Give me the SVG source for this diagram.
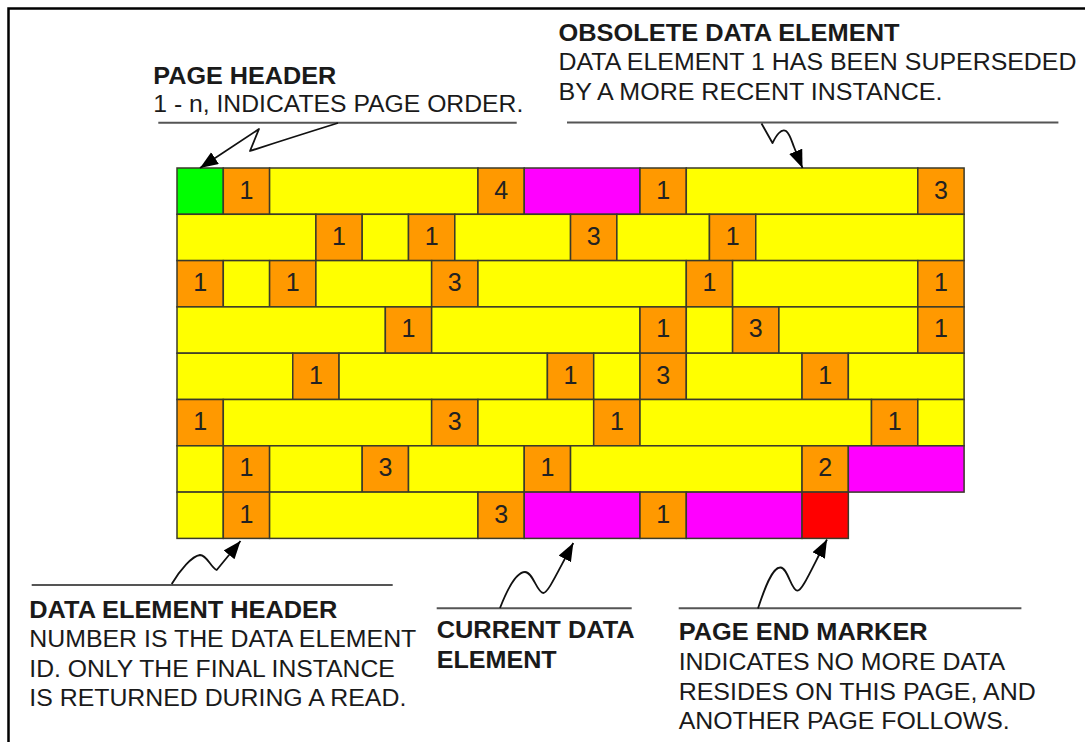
<svg xmlns="http://www.w3.org/2000/svg" width="1085" height="742" viewBox="0 0 1085 742">
<style>
.c{stroke:#3a3a2a;stroke-width:1.5}
.y{fill:#ffff00}.o{fill:#ff9900}.m{fill:#ff00ff}.g{fill:#00ff00}.r{fill:#ff0000}
.n{font-family:"Liberation Sans",Arial,sans-serif;font-size:25px;fill:#222;text-anchor:middle}
.t{font-family:"Liberation Sans",Arial,sans-serif;font-size:23px;font-weight:bold;fill:#1a1a1a}
.d{font-family:"Liberation Sans",Arial,sans-serif;font-size:23.5px;fill:#1a1a1a}
.ul{stroke:#555;stroke-width:2;fill:none}
.sq{stroke:#111;stroke-width:1.8;fill:none;stroke-linejoin:round;marker-end:url(#ah)}
</style>
<defs>
<marker id="ah" markerUnits="userSpaceOnUse" markerWidth="19" markerHeight="15" refX="18" refY="7" orient="auto">
<path d="M0,0 L18,7 L0,14 z" fill="#000"/>
</marker>
</defs>
<rect x="0" y="0" width="1085" height="742" fill="#fff"/>
<rect x="8.5" y="8.5" width="1100" height="760" fill="none" stroke="#000" stroke-width="2.5"/>

<g id="page">
<g id="row0">
<rect class="c g" x="177" y="168" width="46.3" height="46.3"/>
<rect class="c o" x="223.3" y="168" width="46.3" height="46.3"/><text class="n" x="246.45" y="198.5">1</text>
<rect class="c y" x="269.6" y="168" width="208.35" height="46.3"/>
<rect class="c o" x="477.95" y="168" width="46.3" height="46.3"/><text class="n" x="501.1" y="198.5">4</text>
<rect class="c m" x="524.25" y="168" width="115.75" height="46.3"/>
<rect class="c o" x="640" y="168" width="46.3" height="46.3"/><text class="n" x="663.15" y="198.5">1</text>
<rect class="c y" x="686.3" y="168" width="231.5" height="46.3"/>
<rect class="c o" x="917.8" y="168" width="46.3" height="46.3"/><text class="n" x="940.95" y="198.5">3</text>
</g>
<g id="row1">
<rect class="c y" x="177" y="214.3" width="138.9" height="46.3"/>
<rect class="c o" x="315.9" y="214.3" width="46.3" height="46.3"/><text class="n" x="339.05" y="244.8">1</text>
<rect class="c y" x="362.2" y="214.3" width="46.3" height="46.3"/>
<rect class="c o" x="408.5" y="214.3" width="46.3" height="46.3"/><text class="n" x="431.65" y="244.8">1</text>
<rect class="c y" x="454.8" y="214.3" width="115.75" height="46.3"/>
<rect class="c o" x="570.55" y="214.3" width="46.3" height="46.3"/><text class="n" x="593.7" y="244.8">3</text>
<rect class="c y" x="616.85" y="214.3" width="92.6" height="46.3"/>
<rect class="c o" x="709.45" y="214.3" width="46.3" height="46.3"/><text class="n" x="732.6" y="244.8">1</text>
<rect class="c y" x="755.75" y="214.3" width="208.35" height="46.3"/>
</g>
<g id="row2">
<rect class="c o" x="177" y="260.6" width="46.3" height="46.3"/><text class="n" x="200.15" y="291.1">1</text>
<rect class="c y" x="223.3" y="260.6" width="46.3" height="46.3"/>
<rect class="c o" x="269.6" y="260.6" width="46.3" height="46.3"/><text class="n" x="292.75" y="291.1">1</text>
<rect class="c y" x="315.9" y="260.6" width="115.75" height="46.3"/>
<rect class="c o" x="431.65" y="260.6" width="46.3" height="46.3"/><text class="n" x="454.8" y="291.1">3</text>
<rect class="c y" x="477.95" y="260.6" width="208.35" height="46.3"/>
<rect class="c o" x="686.3" y="260.6" width="46.3" height="46.3"/><text class="n" x="709.45" y="291.1">1</text>
<rect class="c y" x="732.6" y="260.6" width="185.2" height="46.3"/>
<rect class="c o" x="917.8" y="260.6" width="46.3" height="46.3"/><text class="n" x="940.95" y="291.1">1</text>
</g>
<g id="row3">
<rect class="c y" x="177" y="306.9" width="208.35" height="46.3"/>
<rect class="c o" x="385.35" y="306.9" width="46.3" height="46.3"/><text class="n" x="408.5" y="337.4">1</text>
<rect class="c y" x="431.65" y="306.9" width="208.35" height="46.3"/>
<rect class="c o" x="640" y="306.9" width="46.3" height="46.3"/><text class="n" x="663.15" y="337.4">1</text>
<rect class="c y" x="686.3" y="306.9" width="46.3" height="46.3"/>
<rect class="c o" x="732.6" y="306.9" width="46.3" height="46.3"/><text class="n" x="755.75" y="337.4">3</text>
<rect class="c y" x="778.9" y="306.9" width="138.9" height="46.3"/>
<rect class="c o" x="917.8" y="306.9" width="46.3" height="46.3"/><text class="n" x="940.95" y="337.4">1</text>
</g>
<g id="row4">
<rect class="c y" x="177" y="353.2" width="115.75" height="46.3"/>
<rect class="c o" x="292.75" y="353.2" width="46.3" height="46.3"/><text class="n" x="315.9" y="383.7">1</text>
<rect class="c y" x="339.05" y="353.2" width="208.35" height="46.3"/>
<rect class="c o" x="547.4" y="353.2" width="46.3" height="46.3"/><text class="n" x="570.55" y="383.7">1</text>
<rect class="c y" x="593.7" y="353.2" width="46.3" height="46.3"/>
<rect class="c o" x="640" y="353.2" width="46.3" height="46.3"/><text class="n" x="663.15" y="383.7">3</text>
<rect class="c y" x="686.3" y="353.2" width="115.75" height="46.3"/>
<rect class="c o" x="802.05" y="353.2" width="46.3" height="46.3"/><text class="n" x="825.2" y="383.7">1</text>
<rect class="c y" x="848.35" y="353.2" width="115.75" height="46.3"/>
</g>
<g id="row5">
<rect class="c o" x="177" y="399.5" width="46.3" height="46.3"/><text class="n" x="200.15" y="430">1</text>
<rect class="c y" x="223.3" y="399.5" width="208.35" height="46.3"/>
<rect class="c o" x="431.65" y="399.5" width="46.3" height="46.3"/><text class="n" x="454.8" y="430">3</text>
<rect class="c y" x="477.95" y="399.5" width="115.75" height="46.3"/>
<rect class="c o" x="593.7" y="399.5" width="46.3" height="46.3"/><text class="n" x="616.85" y="430">1</text>
<rect class="c y" x="640" y="399.5" width="231.5" height="46.3"/>
<rect class="c o" x="871.5" y="399.5" width="46.3" height="46.3"/><text class="n" x="894.65" y="430">1</text>
<rect class="c y" x="917.8" y="399.5" width="46.3" height="46.3"/>
</g>
<g id="row6">
<rect class="c y" x="177" y="445.8" width="46.3" height="46.3"/>
<rect class="c o" x="223.3" y="445.8" width="46.3" height="46.3"/><text class="n" x="246.45" y="476.3">1</text>
<rect class="c y" x="269.6" y="445.8" width="92.6" height="46.3"/>
<rect class="c o" x="362.2" y="445.8" width="46.3" height="46.3"/><text class="n" x="385.35" y="476.3">3</text>
<rect class="c y" x="408.5" y="445.8" width="115.75" height="46.3"/>
<rect class="c o" x="524.25" y="445.8" width="46.3" height="46.3"/><text class="n" x="547.4" y="476.3">1</text>
<rect class="c y" x="570.55" y="445.8" width="231.5" height="46.3"/>
<rect class="c o" x="802.05" y="445.8" width="46.3" height="46.3"/><text class="n" x="825.2" y="476.3">2</text>
<rect class="c m" x="848.35" y="445.8" width="115.75" height="46.3"/>
</g>
<g id="row7">
<rect class="c y" x="177" y="492.1" width="46.3" height="46.3"/>
<rect class="c o" x="223.3" y="492.1" width="46.3" height="46.3"/><text class="n" x="246.45" y="522.6">1</text>
<rect class="c y" x="269.6" y="492.1" width="208.35" height="46.3"/>
<rect class="c o" x="477.95" y="492.1" width="46.3" height="46.3"/><text class="n" x="501.1" y="522.6">3</text>
<rect class="c m" x="524.25" y="492.1" width="115.75" height="46.3"/>
<rect class="c o" x="640" y="492.1" width="46.3" height="46.3"/><text class="n" x="663.15" y="522.6">1</text>
<rect class="c m" x="686.3" y="492.1" width="115.75" height="46.3"/>
<rect class="c r" x="802.05" y="492.1" width="46.3" height="46.3"/>
</g>
</g>

<g id="label-page-header">
<text class="t" x="153.3" y="84.3" textLength="183" lengthAdjust="spacingAndGlyphs">PAGE HEADER</text>
<text class="d" x="153.3" y="111.7" textLength="370" lengthAdjust="spacingAndGlyphs">1 - n, INDICATES PAGE ORDER.</text>
</g>
<g id="label-obsolete">
<text class="t" x="558.5" y="41.3" textLength="341" lengthAdjust="spacingAndGlyphs">OBSOLETE DATA ELEMENT</text>
<text class="d" x="558.5" y="69.5" textLength="518" lengthAdjust="spacingAndGlyphs">DATA ELEMENT 1 HAS BEEN SUPERSEDED</text>
<text class="d" x="558.5" y="99.5" textLength="384" lengthAdjust="spacingAndGlyphs">BY A MORE RECENT INSTANCE.</text>
</g>
<g id="label-data-element-header">
<text class="t" x="29.3" y="618" textLength="308" lengthAdjust="spacingAndGlyphs">DATA ELEMENT HEADER</text>
<text class="d" x="29.3" y="647.3" textLength="387" lengthAdjust="spacingAndGlyphs">NUMBER IS THE DATA ELEMENT</text>
<text class="d" x="29.3" y="676.6" textLength="365.5" lengthAdjust="spacingAndGlyphs">ID. ONLY THE FINAL INSTANCE</text>
<text class="d" x="29.3" y="706" textLength="377" lengthAdjust="spacingAndGlyphs">IS RETURNED DURING A READ.</text>
</g>
<g id="label-current">
<text class="t" x="436.7" y="638.3" textLength="198" lengthAdjust="spacingAndGlyphs">CURRENT DATA</text>
<text class="t" x="436.7" y="668.3" textLength="120" lengthAdjust="spacingAndGlyphs">ELEMENT</text>
</g>
<g id="label-page-end">
<text class="t" x="678.7" y="639.5" textLength="249" lengthAdjust="spacingAndGlyphs">PAGE END MARKER</text>
<text class="d" x="678.7" y="670" textLength="326.5" lengthAdjust="spacingAndGlyphs">INDICATES NO MORE DATA</text>
<text class="d" x="678.7" y="699.5" textLength="357" lengthAdjust="spacingAndGlyphs">RESIDES ON THIS PAGE, AND</text>
<text class="d" x="678.7" y="729" textLength="331" lengthAdjust="spacingAndGlyphs">ANOTHER PAGE FOLLOWS.</text>
</g>

<g id="connectors">
<line class="ul" x1="158.3" y1="122.7" x2="516.7" y2="122.7"/>
<line class="ul" x1="567" y1="122.5" x2="1058.4" y2="122.5"/>
<line class="ul" x1="31.7" y1="585" x2="392.7" y2="585"/>
<line class="ul" x1="436.7" y1="608.3" x2="631.7" y2="608.3"/>
<line class="ul" x1="678.7" y1="608.3" x2="1021.4" y2="608.3"/>
<path class="sq" d="M338,123 Q290,138 250,151 L259,129 L200,168"/>
<path class="sq" d="M761.5,123.5 L772.5,143 C776,136 781,128 786,131 C790,134 792,142 794,147 L802.5,168"/>
<path class="sq" d="M171.7,584 C180,570 192,556 200,555 C207,555 211,568 216.7,570 L240.5,541"/>
<path class="sq" d="M500,608 C507,590 516,572 525,572 C533,572 537,593 543.3,593 C548,593 556,575 573.3,543"/>
<path class="sq" d="M758,608.5 C764,590 772,567 780.5,567.5 C788,568 791,590 797.4,590.7 C802,591 810,572 827,539.5"/>
</g>
</svg>
